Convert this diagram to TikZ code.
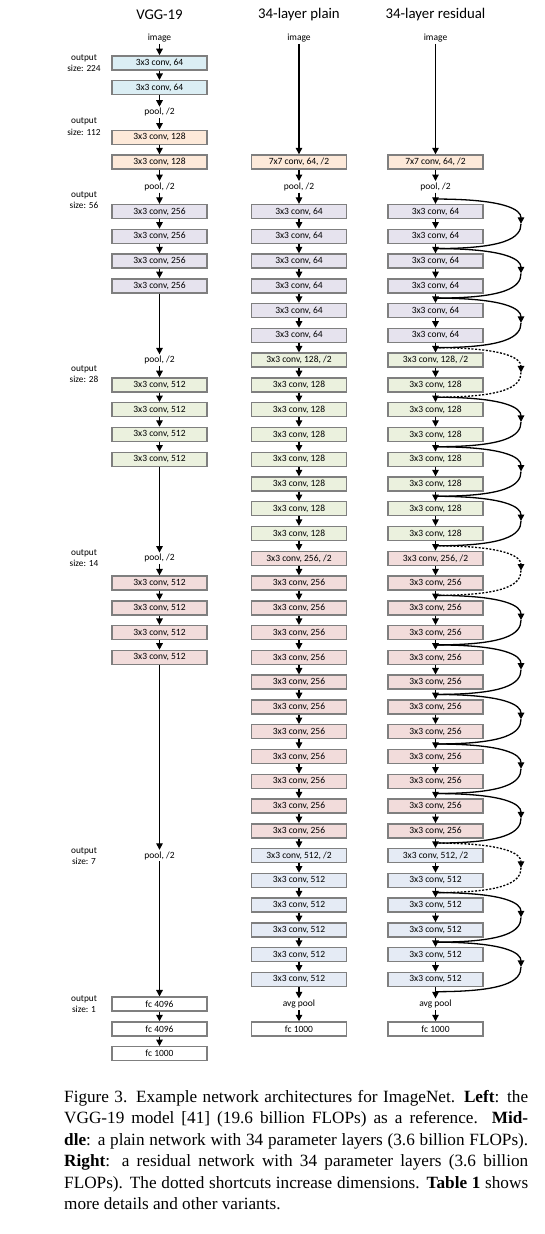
\documentclass[tikz,border=0pt]{standalone}
\usepackage{fontspec}
\setmainfont{Carlito}
\newfontfamily\capfont{Liberation Serif}
\usetikzlibrary{arrows.meta}
\definecolor{cblue}{HTML}{DBEEF4}
\definecolor{cpeach}{HTML}{FDE9D9}
\definecolor{clav}{HTML}{E6E3EE}
\definecolor{cgreen}{HTML}{EBF1DE}
\definecolor{cpink}{HTML}{F2DCDB}
\definecolor{cbg}{HTML}{E5EBF5}
\definecolor{bord}{HTML}{7F7F7F}
\tikzset{
  boxbase/.style={draw=bord, line width=1.4pt, minimum width=95pt, minimum height=14pt, inner sep=0pt, font=\fontsize{9.5}{10}\selectfont},
  fblue/.style={boxbase, fill=cblue},
  fpeach/.style={boxbase, fill=cpeach},
  flav/.style={boxbase, fill=clav},
  fgreen/.style={boxbase, fill=cgreen},
  fpink/.style={boxbase, fill=cpink},
  fbg/.style={boxbase, fill=cbg},
  fwhite/.style={boxbase, fill=white},
  lbl/.style={inner sep=1.5pt, font=\fontsize{9.5}{10}\selectfont},
  olbl/.style={inner sep=0pt, align=center, font=\fontsize{9.3}{11.5}\selectfont},
  ttl/.style={inner sep=0pt, font=\fontsize{14.8}{16}\selectfont},
  arr/.style={line width=1.3pt, -{Triangle[length=6.5pt,width=6.5pt]}},
  sc/.style={line width=1.3pt},
  scd/.style={line width=1.3pt, dash pattern=on 2pt off 1.6pt},
  tipd/.style={-{Triangle[length=6.5pt,width=6.5pt]}}
}
\newcommand\layer[5]{\pgfmathsetmacro\yy{162+24.77*(#3)}\node[#4] (#1#3) at (#2,\yy) {#5};}
\newcommand\netcol[2]{%
  \layer{#1}{#2}{-5}{lbl}{image}
  \layer{#1}{#2}{0}{fpeach}{7x7 conv, 64, /2}
  \layer{#1}{#2}{1}{lbl}{pool, /2}
  \foreach \r in {2,...,7}{\layer{#1}{#2}{\r}{flav}{3x3 conv, 64}}
  \layer{#1}{#2}{8}{fgreen}{3x3 conv, 128, /2}
  \foreach \r in {9,...,15}{\layer{#1}{#2}{\r}{fgreen}{3x3 conv, 128}}
  \layer{#1}{#2}{16}{fpink}{3x3 conv, 256, /2}
  \foreach \r in {17,...,27}{\layer{#1}{#2}{\r}{fpink}{3x3 conv, 256}}
  \layer{#1}{#2}{28}{fbg}{3x3 conv, 512, /2}
  \foreach \r in {29,...,33}{\layer{#1}{#2}{\r}{fbg}{3x3 conv, 512}}
  \layer{#1}{#2}{34}{lbl}{avg pool}
  \layer{#1}{#2}{35}{fwhite}{fc 1000}
  \draw[arr] (#1-5.south) -- (#10.north);
  \foreach \r [evaluate=\r as \q using int(\r-1)] in {1,...,35}{\draw[arr] (#1\q.south) -- (#1\r.north);}
}
\begin{document}
\begin{tikzpicture}[x=1pt,y=-1pt]
\fill[white] (0,0) rectangle (544,1234);
\useasboundingbox (0,0) rectangle (544,1234);
% titles
\node[ttl] (t1) at (159.5,14.5) {VGG-19};
\node[ttl] (t2) at (299,14.5) {34-layer plain};
\node[ttl] (t3) at (435.5,14.5) {34-layer residual};
% output size labels
\node[olbl] (o1) at (84,63) {output\\size: 224};
\node[olbl] (o2) at (84,126.5) {output\\size: 112};
\node[olbl] (o3) at (84,200) {output\\size: 56};
\node[olbl] (o4) at (84,374) {output\\size: 28};
\node[olbl] (o5) at (84,558) {output\\size: 14};
\node[olbl] (o6) at (84,856) {output\\size: 7};
\node[olbl] (o7) at (84,1004) {output\\size: 1};
% VGG column
\layer{v}{159.5}{-5}{lbl}{image}
\layer{v}{159.5}{-4}{fblue}{3x3 conv, 64}
\layer{v}{159.5}{-3}{fblue}{3x3 conv, 64}
\layer{v}{159.5}{-2}{lbl}{pool, /2}
\layer{v}{159.5}{-1}{fpeach}{3x3 conv, 128}
\layer{v}{159.5}{0}{fpeach}{3x3 conv, 128}
\layer{v}{159.5}{1}{lbl}{pool, /2}
\foreach \r in {2,...,5}{\layer{v}{159.5}{\r}{flav}{3x3 conv, 256}}
\layer{v}{159.5}{8}{lbl}{pool, /2}
\foreach \r in {9,...,12}{\layer{v}{159.5}{\r}{fgreen}{3x3 conv, 512}}
\layer{v}{159.5}{16}{lbl}{pool, /2}
\foreach \r in {17,...,20}{\layer{v}{159.5}{\r}{fpink}{3x3 conv, 512}}
\layer{v}{159.5}{28}{lbl}{pool, /2}
\layer{v}{159.5}{34}{fwhite}{fc 4096}
\layer{v}{159.5}{35}{fwhite}{fc 4096}
\layer{v}{159.5}{36}{fwhite}{fc 1000}
\foreach \a/\b in {-5/-4,-4/-3,-3/-2,-2/-1,-1/0,0/1,1/2,2/3,3/4,4/5,5/8,8/9,9/10,10/11,11/12,12/16,16/17,17/18,18/19,19/20,20/28,28/34,34/35,35/36}
  {\draw[arr] (v\a.south) -- (v\b.north);}
% plain and residual columns
\netcol{p}{299}
\netcol{r}{435.5}
% shortcut junctions
\foreach \a in {2,4,...,34}{
  \pgfmathsetmacro\jy{162+24.77*\a-12.5}
  \coordinate (j\a) at (435.5,\jy);
  \pgfmathsetmacro\my{\jy+24.77}
  \coordinate (m\a) at (521,\my);
}
\foreach \a [evaluate=\a as \b using int(\a+2)] in {2,4,6,10,12,14,18,20,22,24,26,30,32}{
  \draw[sc,tipd] (j\a) .. controls +(70,0) and +(0,-14) .. (m\a);
  \draw[sc] (m\a) .. controls +(0,14) and +(70,0) .. (j\b);
}
\foreach \a [evaluate=\a as \b using int(\a+2)] in {8,16,28}{
  \draw[scd,tipd] (j\a) .. controls +(70,0) and +(0,-14) .. (m\a);
  \draw[scd] (m\a) .. controls +(0,14) and +(70,0) .. (j\b);
}
% caption
\node[anchor=north west, inner sep=0pt, text width=464pt, align=justify,
  font=\capfont\fontsize{17.2}{21.5}\selectfont] (cap) at (64,1090)
{Figure 3. Example network architectures for ImageNet. \textbf{Left}: the\linebreak
VGG-19 model [41] (19.6 billion FLOPs) as a reference. \textbf{Mid-}\linebreak
\textbf{dle}: a plain network with 34 parameter layers (3.6 billion FLOPs).\linebreak
\textbf{Right}: a residual network with 34 parameter layers (3.6 billion\linebreak
FLOPs). The dotted shortcuts increase dimensions. \textbf{Table 1} shows\linebreak
more details and other variants.};
\end{tikzpicture}
\end{document}
